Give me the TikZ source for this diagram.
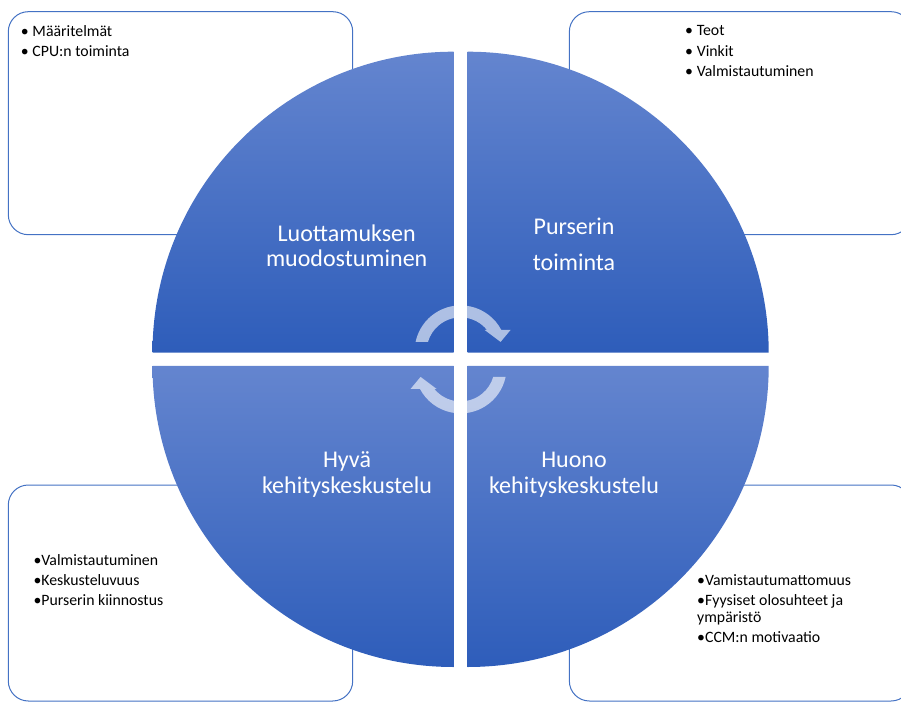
\documentclass[tikz,border=0pt]{standalone}
\usepackage{fontspec}
\setmainfont{Carlito}
\usepackage{tikz}
\usetikzlibrary{positioning}

\definecolor{boxline}{RGB}{68,114,196}
\definecolor{quartop}{RGB}{100,133,207}
\definecolor{quarbot}{RGB}{46,93,186}

\newcommand{\bulletgap}{\makebox[11.6pt][l]{•}}

\begin{document}
\begin{tikzpicture}[x=1pt,y=1pt,
    infobox/.style={draw=boxline, line width=1pt, rounded corners=20pt,
      fill=white, inner sep=0pt},
    quarter/.style={top color=quartop, bottom color=quarbot},
    quartext/.style={text=white, font=\fontsize{24}{25.5}\selectfont,
      align=center, anchor=base, inner sep=0pt},
    items/.style={font=\fontsize{15.8}{20.5}\selectfont, align=left,
      anchor=base west, inner sep=0pt},
    cyclearrow/.style={fill=white, fill opacity=0.6},
    turnarrow/.pic={
      \fill[cyclearrow] (168:46) arc[start angle=168, end angle=27.9, radius=46]
        -- (50,21.5) -- (40,9.5) -- (24,21.5) -- (39.2:34)
        arc[start angle=39.2, end angle=163.8, radius=34] -- cycle;}]

  \clip (0,0) rectangle (901,702);

  % text boxes behind the circle
  \node[infobox, minimum width=344.4pt, minimum height=223pt] (boxTL) at (180.5,578.8) {};
  \node[infobox, minimum width=341.7pt, minimum height=223pt] (boxTR) at (740.2,578.8) {};
  \node[infobox, minimum width=344.4pt, minimum height=216pt] (boxBL) at (180.5,109) {};
  \node[infobox, minimum width=341.7pt, minimum height=216pt] (boxBR) at (740.2,109) {};

  % the four quarters
  \coordinate (qTL) at (453.5,349.3);
  \coordinate (qTR) at (467.7,349.3);
  \coordinate (qBL) at (453.5,336);
  \coordinate (qBR) at (467.7,336);
  \coordinate (gap) at (460.6,342.6);

  \path[quarter] (qTL) -- ++(-301,0) arc[start angle=180, end angle=90, radius=301] -- cycle;
  \path[quarter] (qTR) -- ++(301,0) arc[start angle=0, end angle=90, radius=301] -- cycle;
  \path[quarter] (qBL) -- ++(-301,0) arc[start angle=180, end angle=270, radius=301] -- cycle;
  \path[quarter] (qBR) -- ++(301,0) arc[start angle=0, end angle=-90, radius=301] -- cycle;

  % turning arrows
  \pic[shift={(0,8)}] at (gap) {turnarrow};
  \pic[rotate=180, shift={(0,8)}] at (gap) {turnarrow};

  % quarter labels (placed at the baseline of the last line)
  \node[quartext] (tTL) at (346.7,435) {Luottamuksen\\muodostuminen};
  \node[quartext, font=\fontsize{24}{36}\selectfont] (tTR) at (574,431) {Purserin\\toiminta};
  \node[quartext] (tBL) at (347,209) {Hyvä\\kehityskeskustelu};
  \node[quartext] (tBR) at (574,209) {Huono\\kehityskeskustelu};

  % box contents
  \node[items] (iTL) at (20.7,645.3) {\bulletgap Määritelmät\\\bulletgap CPU:n toiminta};
  \node[items] (iTR) at (685,625.3) {\bulletgap Teot\\\bulletgap Vinkit\\\bulletgap Valmistautuminen};
  \node[items, font=\fontsize{15.8}{20}\selectfont] (iBL) at (33.3,97)
    {•Valmistautuminen\\•Keskusteluvuus\\•Purserin kiinnostus};
  \node[items, font=\fontsize{15.8}{16.7}\selectfont] (iBR) at (697,59.7)
    {•Vamistautumattomuus\\[3.6pt]•Fyysiset olosuhteet ja\\ympäristö\\[3.6pt]•CCM:n motivaatio};
\end{tikzpicture}
\end{document}
